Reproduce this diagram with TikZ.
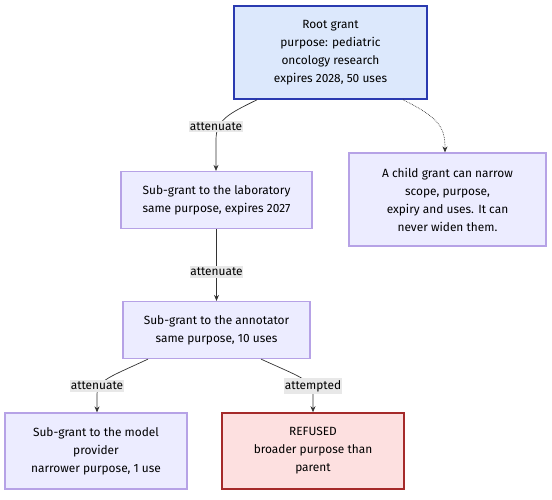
\documentclass[tikz,border=0pt]{standalone}
\usepackage{fontspec}
\setmainfont{Fira Sans}
\usetikzlibrary{arrows.meta}
\definecolor{pfill}{HTML}{ECECFF}
\definecolor{pline}{HTML}{B6A2E6}
\definecolor{rfill}{HTML}{DCE8FC}
\definecolor{rline}{HTML}{2A3AB0}
\definecolor{xfill}{HTML}{FDE0E0}
\definecolor{xline}{HTML}{A52A2A}
\definecolor{edge}{HTML}{333333}
\definecolor{lblbg}{HTML}{E8E8E8}
\tikzset{
  box/.style={draw=pline, fill=pfill, line width=1.2pt, align=center, font=\fontsize{11.9}{18}\selectfont, inner sep=0pt},
  rootbox/.style={box, draw=rline, fill=rfill, line width=1.6pt},
  refbox/.style={box, draw=xline, fill=xfill, line width=1.6pt},
  lbl/.style={fill=lblbg, font=\fontsize{11.9}{13}\selectfont, inner xsep=0.5pt, inner ysep=2pt},
  conn/.style={draw=edge, line width=0.7pt, -{Stealth[length=6pt,width=5pt]}},
}
\begin{document}
\begin{tikzpicture}[x=1pt,y=-1pt]
\useasboundingbox (0,0) rectangle (552,500);
\node[rootbox, minimum width=193pt, minimum height=93pt] (root) at (330.5,52.5)
  {Root grant\\purpose: pediatric\\oncology research\\expires 2028, 50 uses};
\node[box, minimum width=191pt, minimum height=57pt] (lab) at (216.5,200)
  {Sub-grant to the laboratory\\same purpose, expires 2027};
\node[box, minimum width=197pt, minimum height=93pt] (note) at (447.5,199.5)
  {A child grant can narrow\\scope, purpose,\\expiry and uses. It can\\never widen them.};
\node[box, minimum width=187pt, minimum height=57pt] (ann) at (216.5,330)
  {Sub-grant to the annotator\\same purpose, 10 uses};
\node[box, minimum width=182pt, minimum height=76pt] (model) at (96,451)
  {Sub-grant to the model\\provider\\narrower purpose, 1 use};
\node[refbox, minimum width=182pt, minimum height=76pt] (ref) at (313,451)
  {REFUSED\\broader purpose than\\parent};

\coordinate (s1) at (root.south -| 257,0);
\coordinate (s2) at (root.south -| 403,0);
\coordinate (s4) at (ann.south -| 148,0);
\coordinate (s5) at (ann.south -| 261,0);

\draw[conn] (s1) .. controls (228,114) and (216,120) .. (216,140) -- (lab.north -| 216,0);
\node[lbl] (l1) at (216,126.5) {attenuate};
\draw[conn, densely dotted] (s2) .. controls (440,118) and (445,128) .. (note.north -| 445,0);
\draw[conn] (lab) -- (ann);
\node[lbl] (l2) at (216.5,272) {attenuate};
\draw[conn] (s4) .. controls (110,377) and (97,380) .. (97,395) -- (model.north -| 97,0);
\node[lbl] (l3) at (97,386) {attenuate};
\draw[conn] (s5) .. controls (300,377) and (313,380) .. (313,395) -- (ref.north -| 313,0);
\node[lbl] (l4) at (313,386) {attempted};
\end{tikzpicture}
\end{document}
